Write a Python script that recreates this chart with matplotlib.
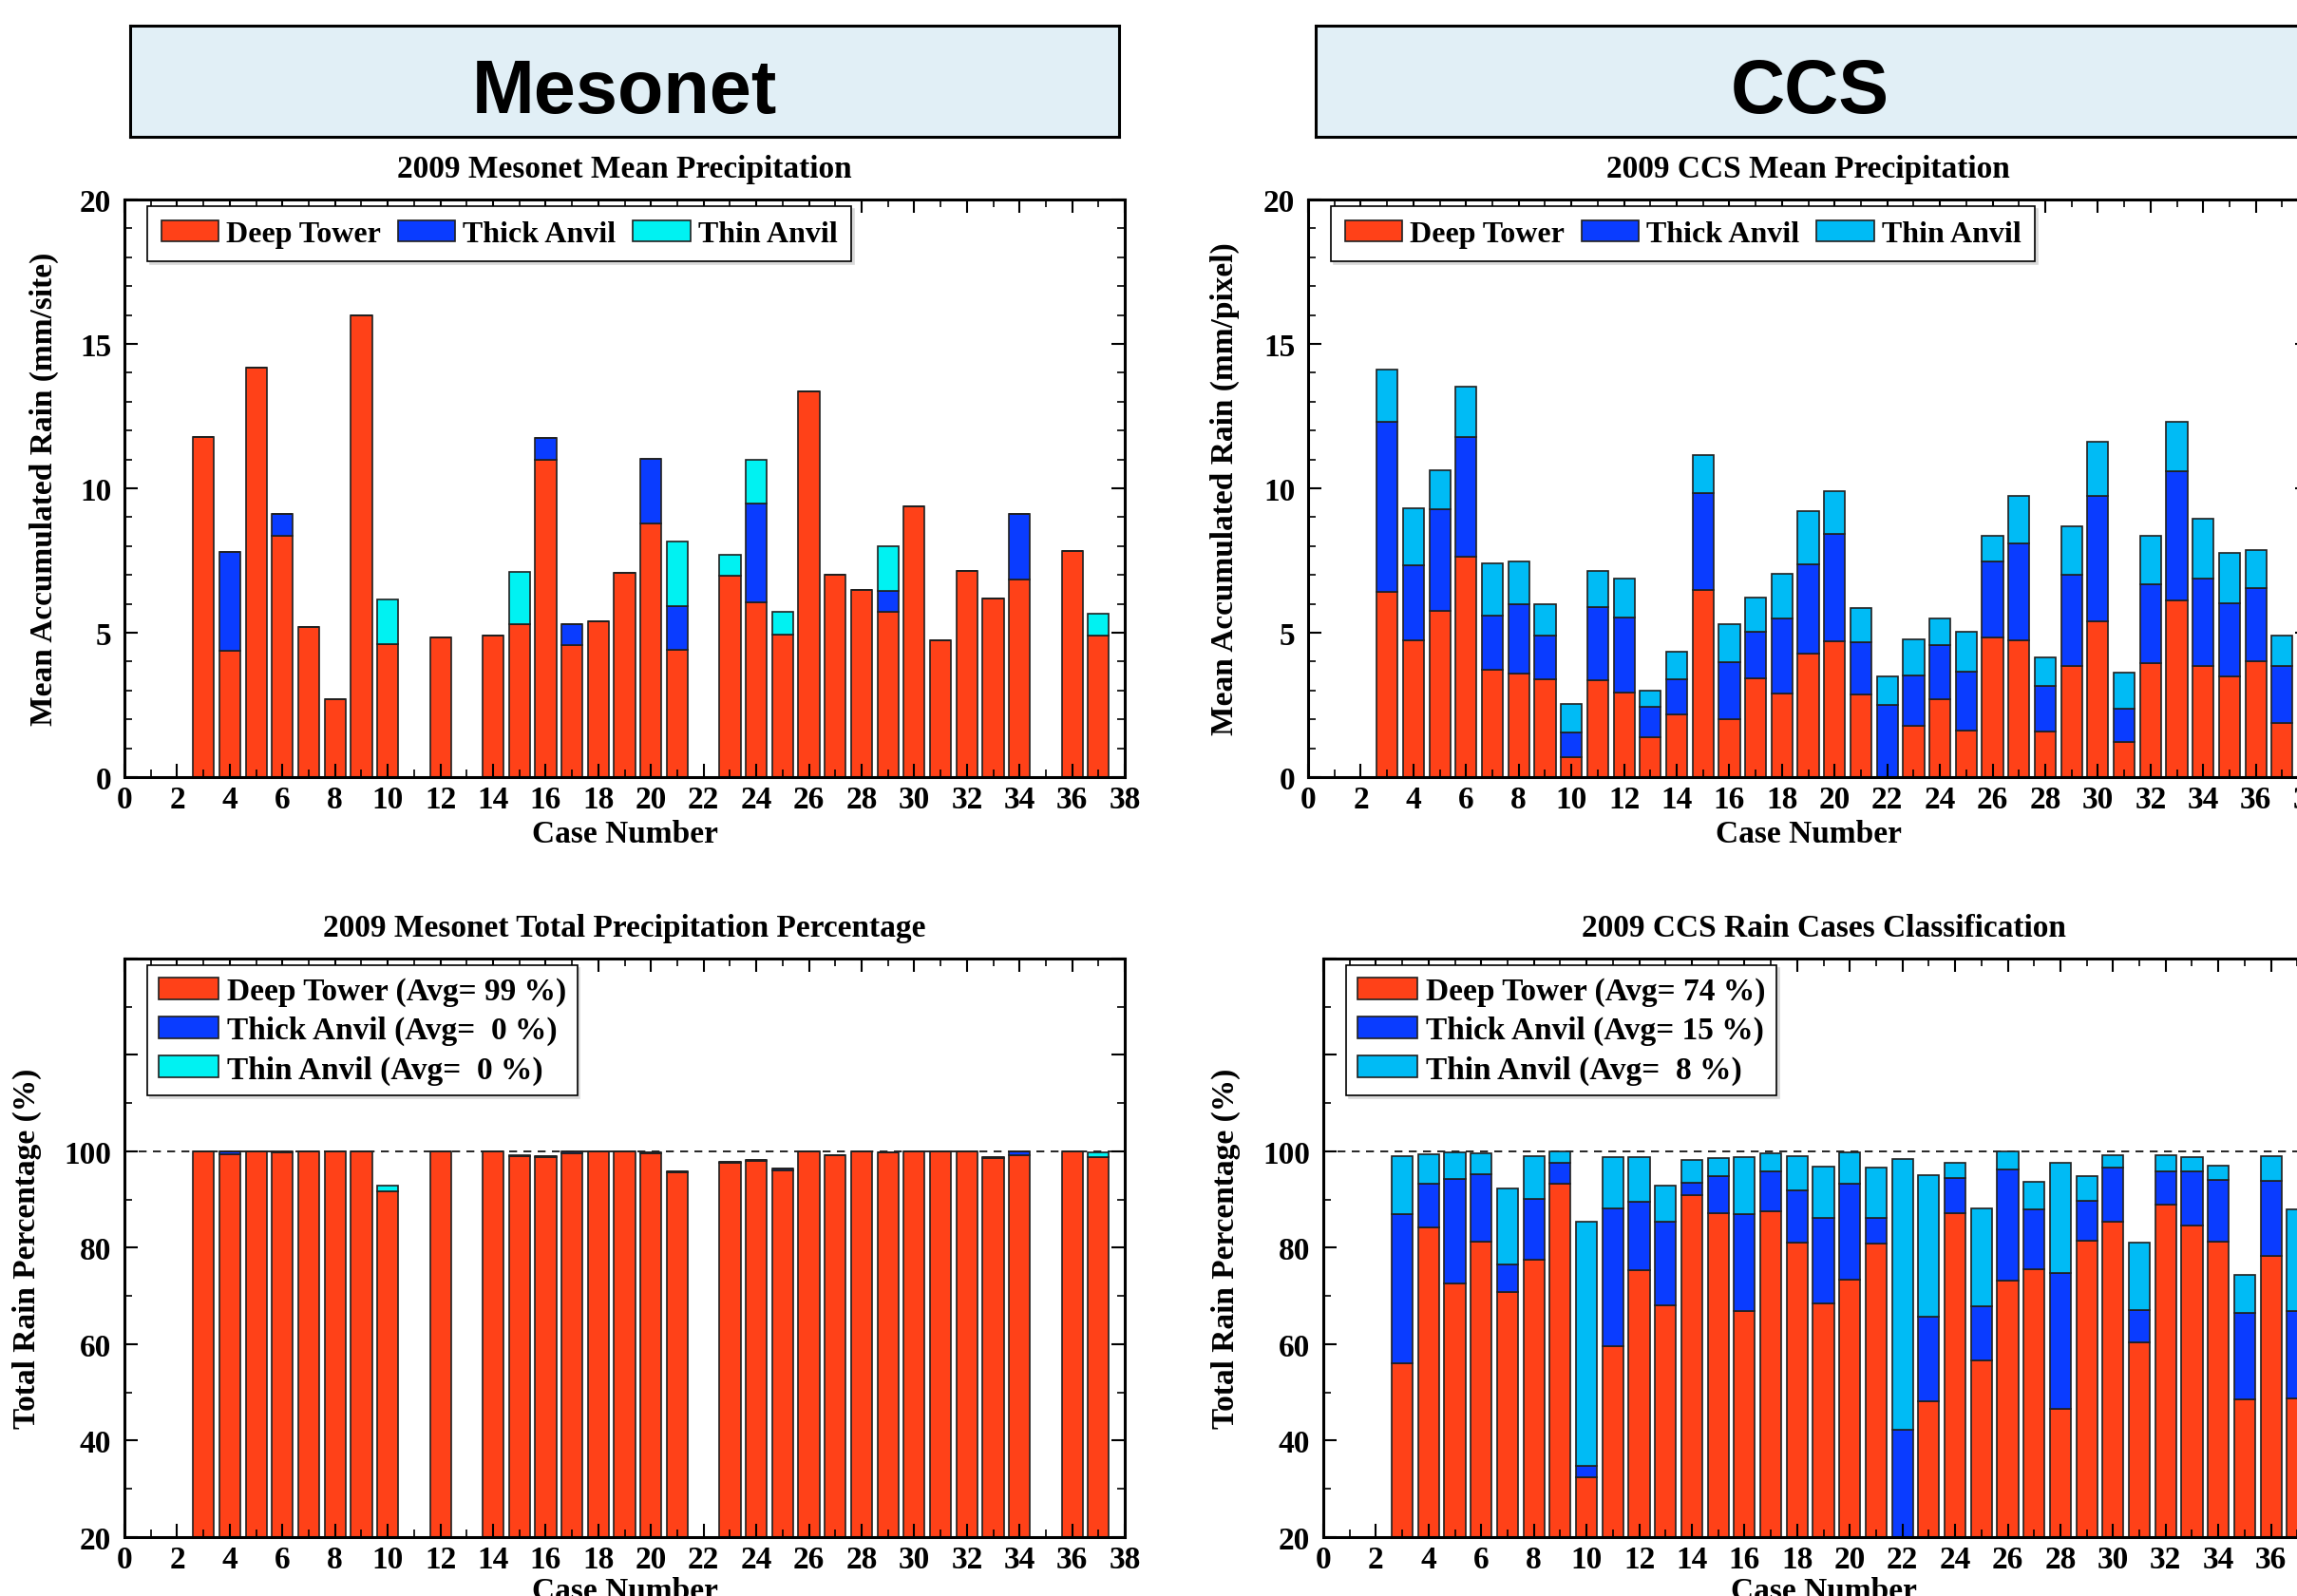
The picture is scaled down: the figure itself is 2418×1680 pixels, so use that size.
import matplotlib
matplotlib.use("Agg")
import matplotlib.pyplot as plt
from matplotlib.ticker import MultipleLocator, FuncFormatter

plt.rcParams['font.family'] = ['Liberation Serif', 'DejaVu Serif']
plt.rcParams['font.weight'] = 'bold'

# colours for the three cloud classes
c_deep = '#FF4118'
c_thick = '#0A3CFF'
c_thin_mes = '#00F2F2'
c_thin_ccs = '#00BBF5'

# Mesonet cases (11, 13, 22 and 35 have no data)
mes_cases = [3, 4, 5, 6, 7, 8, 9, 10, 12, 14, 15, 16, 17, 18, 19, 20, 21,
             23, 24, 25, 26, 27, 28, 29, 30, 31, 32, 33, 34, 36, 37]
mes_deep = [11.79, 4.36, 14.17, 8.36, 5.21, 2.70, 15.98, 4.60, 4.83, 4.91, 5.31,
            10.99, 4.56, 5.40, 7.06, 8.78, 4.41, 6.96, 6.04, 4.92, 13.37, 6.99,
            6.48, 5.71, 9.37, 4.74, 7.14, 6.19, 6.85, 7.83, 4.91]
mes_thick = [0, 3.43, 0, 0.76, 0, 0, 0, 0, 0, 0, 0, 0.75, 0.74, 0, 0, 2.25, 1.52,
             0, 3.44, 0, 0, 0, 0, 0.75, 0, 0, 0, 0, 2.25, 0, 0]
mes_thin = [0, 0, 0, 0, 0, 0, 0, 1.54, 0, 0, 1.78, 0, 0, 0, 0, 0, 2.24,
            0.75, 1.49, 0.79, 0, 0, 0, 1.52, 0, 0, 0, 0, 0, 0, 0.75]

mes_pct_deep = [100, 99.4, 100, 99.8, 100, 100, 100, 91.7, 100, 100, 99.0, 98.8,
                99.5, 100, 100, 99.5, 95.7, 97.6, 98.0, 96.1, 100, 99.3, 100, 99.8,
                100, 100, 100, 98.6, 99.3, 100, 98.9]
mes_pct_thick = [0, 0.6, 0, 0.2, 0, 0, 0, 0, 0, 0, 0, 0.2, 0.4, 0, 0, 0.3, 0.2,
                 0.2, 0.3, 0.3, 0, 0, 0, 0, 0, 0, 0, 0.2, 0.6, 0, 0]
mes_pct_thin = [0, 0, 0, 0, 0, 0, 0, 1.2, 0, 0, 0.3, 0, 0, 0, 0, 0, 0,
                0, 0, 0, 0, 0, 0, 0, 0, 0, 0, 0, 0, 0, 0.9]

# CCS cases 3..37
ccs_cases = list(range(3, 38))
ccs_deep = [6.40, 4.75, 5.74, 7.64, 3.73, 3.58, 3.38, 0.68, 3.35, 2.93, 1.39, 2.17,
            6.48, 2.01, 3.43, 2.91, 4.27, 4.69, 2.85, 0.0, 1.77, 2.70, 1.62, 4.83,
            4.72, 1.57, 3.86, 5.40, 1.22, 3.95, 6.11, 3.86, 3.50, 4.01, 1.89]
ccs_thick = [5.89, 2.60, 3.54, 4.12, 1.85, 2.40, 1.51, 0.87, 2.54, 2.61, 1.04, 1.23,
             3.35, 1.97, 1.61, 2.57, 3.10, 3.73, 1.81, 2.49, 1.76, 1.87, 2.02, 2.63,
             3.37, 1.60, 3.14, 4.35, 1.16, 2.74, 4.49, 3.02, 2.52, 2.54, 1.97]
ccs_thin = [1.82, 1.96, 1.36, 1.76, 1.83, 1.48, 1.09, 0.99, 1.25, 1.34, 0.57, 0.95,
            1.32, 1.32, 1.18, 1.55, 1.85, 1.47, 1.21, 0.98, 1.25, 0.91, 1.40, 0.89,
            1.66, 0.97, 1.69, 1.87, 1.23, 1.66, 1.70, 2.06, 1.74, 1.30, 1.05]

ccs_pct_deep = [56.0, 84.2, 72.6, 81.2, 70.8, 77.5, 93.3, 32.4, 59.5, 75.4, 68.0, 91.0,
                87.1, 66.8, 87.5, 81.1, 68.5, 73.3, 80.8, 0.0, 48.2, 87.2, 56.7, 73.1,
                75.6, 46.6, 81.5, 85.5, 60.4, 88.9, 84.7, 81.2, 48.6, 78.4, 48.8]
ccs_pct_thick = [31.0, 9.0, 21.7, 14.0, 5.7, 12.7, 4.4, 2.3, 28.7, 14.2, 17.5, 2.4,
                 7.8, 20.1, 8.4, 10.8, 17.6, 20.0, 5.4, 42.3, 17.6, 7.3, 11.1, 23.1,
                 12.3, 28.2, 8.3, 11.1, 6.6, 6.9, 11.2, 12.9, 17.8, 15.4, 18.0]
ccs_pct_thin = [12.1, 6.2, 5.5, 4.3, 15.8, 8.9, 2.2, 50.8, 10.7, 9.2, 7.3, 4.8,
                3.7, 12.0, 3.6, 7.2, 10.7, 6.4, 10.5, 56.2, 29.2, 3.2, 20.4, 3.7,
                5.8, 22.9, 5.1, 2.6, 14.1, 3.4, 3.0, 3.0, 7.9, 5.3, 21.2]

mes_avg = [99, 0, 0]
ccs_avg = [74, 15, 8]

FS = 24


def stacked(ax, cases, deep, thick, thin, thin_color, labels):
    bot2 = [a + b for a, b in zip(deep, thick)]
    kw = dict(width=0.8, edgecolor='#202020', linewidth=1.2)
    ax.bar(cases, deep, color=c_deep, label=labels[0], **kw)
    ax.bar(cases, thick, bottom=deep, color=c_thick, label=labels[1], **kw)
    ax.bar(cases, thin, bottom=bot2, color=thin_color, label=labels[2], **kw)


def style(ax, pct=False):
    ax.set_xlim(0, 38)
    ax.xaxis.set_major_locator(MultipleLocator(2))
    ax.xaxis.set_minor_locator(MultipleLocator(1))
    if pct:
        ax.set_ylim(20, 140)
        ax.yaxis.set_major_locator(MultipleLocator(20))
        ax.yaxis.set_minor_locator(MultipleLocator(10))
        ax.yaxis.set_major_formatter(FuncFormatter(lambda v, p: '%d' % v if v <= 100 else ''))
        ax.axhline(100, color='black', linestyle=(0, (5, 4)), linewidth=1.2, zorder=0)
    else:
        ax.set_ylim(0, 20)
        ax.yaxis.set_major_locator(MultipleLocator(5))
        ax.yaxis.set_minor_locator(MultipleLocator(1))
    ax.tick_params(which='both', direction='in', top=True, right=True, labelsize=FS)
    ax.tick_params(which='major', length=10, width=1.5)
    ax.tick_params(which='minor', length=6, width=1.2)
    ax.tick_params(axis='x', pad=6)
    ax.tick_params(axis='y', pad=10)
    for s in ax.spines.values():
        s.set_linewidth(2.2)
    ax.set_xlabel('Case Number', fontsize=FS, fontweight='bold')


def legend(ax, ncol, size, pad):
    leg = ax.legend(loc='upper left', bbox_to_anchor=(0.023, 0.988), borderaxespad=0,
                    ncol=ncol, fontsize=size, frameon=True, fancybox=False, framealpha=1,
                    edgecolor='black', handlelength=1.9, handleheight=0.7,
                    handletextpad=0.25, columnspacing=0.55, labelspacing=0.3,
                    borderpad=pad, shadow={'color': '0.85', 'alpha': 1})
    leg.get_frame().set_linewidth(1.2)


fig = plt.figure(figsize=(24.18, 16.81), dpi=100)

# header boxes
for left, name in [(0.0567, 'Mesonet'), (0.5728, 'CCS')]:
    hx = fig.add_axes([left, 0.9137, 0.4305, 0.0696])
    hx.set_facecolor('#E1EFF6')
    hx.set_xticks([])
    hx.set_yticks([])
    for s in hx.spines.values():
        s.set_linewidth(2.2)
    hx.text(0.5, 0.22, name, transform=hx.transAxes, ha='center', va='baseline',
            fontsize=57, fontweight='bold', family='Liberation Sans')

names = ['Deep Tower', 'Thick Anvil', 'Thin Anvil']

ax1 = fig.add_axes([0.0542, 0.5128, 0.4355, 0.3617])
stacked(ax1, mes_cases, mes_deep, mes_thick, mes_thin, c_thin_mes, names)
style(ax1)
legend(ax1, 3, 23, 0.45)
ax1.set_ylabel('Mean Accumulated Rain (mm/site)', fontsize=FS, fontweight='bold')
ax1.yaxis.set_label_coords(-0.066, 0.5)
ax1.xaxis.set_label_coords(0.5, -0.072)
ax1.text(0.5, 1.054, '2009 Mesonet Mean Precipitation', transform=ax1.transAxes,
         ha='center', va='center', fontsize=FS, fontweight='bold')

ax2 = fig.add_axes([0.5695, 0.5128, 0.4355, 0.3617])
stacked(ax2, ccs_cases, ccs_deep, ccs_thick, ccs_thin, c_thin_ccs, names)
style(ax2)
legend(ax2, 3, 23, 0.45)
ax2.set_ylabel('Mean Accumulated Rain (mm/pixel)', fontsize=FS, fontweight='bold')
ax2.yaxis.set_label_coords(-0.068, 0.5)
ax2.xaxis.set_label_coords(0.5, -0.072)
ax2.text(0.5, 1.054, '2009 CCS Mean Precipitation', transform=ax2.transAxes,
         ha='center', va='center', fontsize=FS, fontweight='bold')

mes_labels = ['%s (Avg= %2d %%)' % (n, a) for n, a in zip(names, mes_avg)]
ax3 = fig.add_axes([0.0542, 0.0369, 0.4355, 0.3623])
stacked(ax3, mes_cases, mes_pct_deep, mes_pct_thick, mes_pct_thin, c_thin_mes, mes_labels)
style(ax3, pct=True)
legend(ax3, 1, 24, 0.35)
ax3.set_ylabel('Total Rain Percentage (%)', fontsize=FS, fontweight='bold')
ax3.yaxis.set_label_coords(-0.083, 0.5)
ax3.xaxis.set_label_coords(0.5, -0.068)
ax3.text(0.5, 1.054, '2009 Mesonet Total Precipitation Percentage', transform=ax3.transAxes,
         ha='center', va='center', fontsize=FS, fontweight='bold')

ccs_labels = ['%s (Avg= %2d %%)' % (n, a) for n, a in zip(names, ccs_avg)]
ax4 = fig.add_axes([0.5761, 0.0369, 0.4355, 0.3623])
stacked(ax4, ccs_cases, ccs_pct_deep, ccs_pct_thick, ccs_pct_thin, c_thin_ccs, ccs_labels)
style(ax4, pct=True)
legend(ax4, 1, 24, 0.35)
ax4.set_ylabel('Total Rain Percentage (%)', fontsize=FS, fontweight='bold')
ax4.yaxis.set_label_coords(-0.083, 0.5)
ax4.xaxis.set_label_coords(0.5, -0.068)
ax4.text(0.5, 1.054, '2009 CCS Rain Cases Classification', transform=ax4.transAxes,
         ha='center', va='center', fontsize=FS, fontweight='bold')

fig.savefig('out.png', dpi=100)
